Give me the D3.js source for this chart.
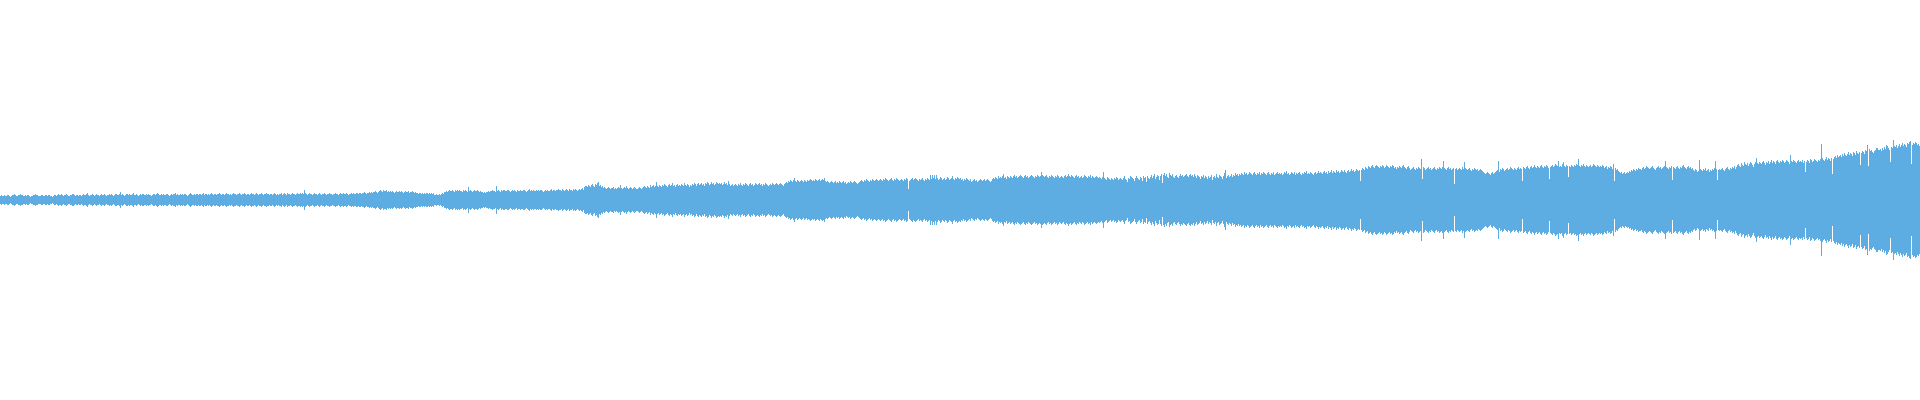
<!DOCTYPE html>
<html>
<head>
<meta charset="utf-8">
<script src="https://cdn.jsdelivr.net/npm/d3@7"></script>
<style>
  html, body { margin: 0; padding: 0; background: #ffffff; overflow: hidden; }
  svg { display: block; }
</style>
</head>
<body>
<svg id="chart" width="1920" height="400"></svg>
<script>
// Peak amplitude per waveform column (full scale = 200).
const peaks = [
  4,5,4,4,5,4,4,5,5,4, 3,4,5,5,6,5,4,4,5,5, 6,5,5,4,4,5,4,5,5,4, 3,4,4,5,5,6,5,5,4,4,
  4,5,5,4,4,5,5,4,5,5, 4,4,3,4,5,5,4,5,6,5, 5,6,5,4,5,5,6,5,4,4, 5,5,6,6,5,4,5,5,4,5,
  5,4,5,6,5,5,6,7,5,4, 5,5,6,5,4,5,6,5,5,4, 5,6,5,5,6,5,4,5,5,6, 5,6,5,4,5,6,6,5,5,6,
  8,5,6,5,4,5,6,6,5,6, 5,5,6,7,5,5,6,5,4,5, 6,5,6,6,5,5,6,5,6,5, 5,4,5,6,6,5,6,7,6,5,
  5,6,5,6,5,5,6,6,5,4, 5,6,5,6,6,7,5,6,5,5, 6,5,6,5,6,6,5,4,5,6, 7,6,5,5,6,5,6,6,5,6,
  6,5,6,7,5,6,6,5,6,5, 6,7,6,5,6,6,5,6,6,7, 6,5,6,6,5,6,7,6,6,5, 6,5,6,7,6,6,5,6,6,7,
  6,5,6,6,7,6,5,6,6,5, 6,7,6,6,5,6,7,6,5,6, 6,7,6,5,6,6,7,6,6,5, 6,6,5,6,7,6,5,6,5,6,
  6,7,5,6,7,6,5,7,6,6, 5,6,7,6,6,5,6,7,6,6, 7,6,7,6,10,7,6,5,6,7, 6,6,5,6,7,6,6,5,6,7,
  6,5,6,6,7,6,5,6,6,7, 6,6,5,6,6,7,6,6,5,6, 7,6,6,7,6,6,7,6,5,6, 6,7,6,7,6,6,7,7,6,7,
  7,6,7,7,8,7,6,7,7,8, 7,8,7,8,8,9,8,7,8,9, 10,9,8,10,9,9,10,8,9,8, 9,8,9,8,7,8,9,8,8,9,
  8,9,8,7,8,9,8,8,9,7, 8,8,9,8,7,8,7,7,6,7, 7,6,7,6,7,6,7,7,6,7, 6,7,6,7,5,5,6,5,5,6,
  5,6,7,6,8,8,9,8,9,10, 9,9,10,9,8,10,9,10,9,10, 9,9,8,10,9,10,9,8,13,9, 10,9,8,9,10,9,9,10,9,8,
  9,8,8,7,8,7,8,8,9,8, 9,9,10,9,9,8,14,9,10,9, 8,10,9,10,10,9,9,10,10,9, 8,9,10,9,10,9,8,10,9,9,
  10,9,9,10,10,9,8,9,10,11, 9,10,9,10,9,9,10,9,10,9, 10,10,9,8,9,10,9,10,9,9, 10,11,9,10,10,9,10,10,11,10,
  10,9,11,10,9,10,11,10,9,11, 10,10,9,11,10,11,10,9,10,11, 10,11,12,10,13,14,14,13,15,14, 13,15,16,14,13,16,15,17,18,14,
  15,13,14,12,13,12,11,12,13,12, 11,12,12,13,11,12,11,12,13,12, 15,12,11,12,13,12,14,12,11,12, 13,12,11,12,13,12,11,11,12,13,
  12,11,12,13,14,13,12,14,13,12, 15,13,14,15,13,14,18,14,13,15, 14,13,15,14,16,15,14,13,15,16, 14,15,17,14,15,13,15,16,14,15,
  14,16,15,14,17,15,14,16,15,13, 15,14,16,15,17,16,14,16,17,15, 16,17,15,16,14,17,16,18,17,15, 16,18,16,17,15,16,18,17,16,17,
  16,17,15,16,18,16,17,15,19,16, 14,15,16,14,15,16,15,14,16,15, 17,15,14,16,15,17,16,15,14,16, 17,15,16,14,15,17,16,15,16,17,
  15,16,14,16,15,17,16,15,14,15, 16,15,17,16,15,16,17,16,15,16, 17,16,15,14,16,17,18,17,19,18, 20,19,18,20,22,19,18,20,19,18,
  19,20,19,18,20,19,18,20,19,20, 21,20,19,20,19,21,20,19,20,21, 19,20,21,20,22,19,18,19,18,17, 18,19,18,17,18,19,17,18,17,19,
  18,17,18,19,17,18,16,17,18,17, 19,18,17,18,19,18,17,16,17,18, 19,20,19,18,20,19,21,20,19,18, 20,19,21,20,19,20,21,20,19,20,
  21,20,19,21,20,22,21,20,19,20, 21,22,20,19,21,20,22,21,20,19, 20,21,20,19,21,20,22,21,11,19, 20,21,22,20,21,22,21,20,19,21,
  20,21,22,20,19,21,20,22,21,20, 25,21,25,22,25,21,25,22,20,21, 23,22,20,21,22,20,21,23,22,20, 21,22,24,21,20,22,21,23,22,21,
  22,20,21,19,21,20,22,21,20,19, 21,18,19,20,21,19,20,18,19,20, 21,20,19,20,21,19,20,21,20,19, 18,19,21,22,21,23,22,21,24,22,
  23,22,24,26,22,23,21,24,23,22, 24,23,22,24,25,23,24,22,23,24, 25,24,23,22,24,25,23,24,22,23, 24,25,24,23,22,24,23,25,24,23,
  24,28,25,24,23,24,25,23,22,24, 23,25,24,23,22,24,23,25,24,22, 23,24,23,22,24,25,23,24,26,24, 23,25,24,23,22,24,25,23,24,22,
  23,24,22,23,25,24,23,22,24,23, 25,22,24,23,22,23,24,23,22,23, 22,21,23,28,22,21,20,23,22,21, 20,22,21,20,22,21,23,22,20,21,
  22,21,20,22,24,21,20,18,22,21, 24,23,22,21,19,22,24,22,21,20, 23,22,19,24,22,23,18,24,22,21, 23,25,22,24,26,21,23,25,24,20,
  24,26,17,25,27,24,26,23,22,27, 25,24,26,23,22,24,25,23,22,24, 26,24,25,23,24,25,26,24,23,25, 26,24,25,23,26,24,22,25,24,23,
  21,24,23,25,22,24,23,21,24,22, 23,25,20,23,24,22,26,23,22,25, 24,23,21,24,27,30,22,24,25,23, 24,26,23,25,24,27,25,26,24,26,
  25,27,26,25,28,26,27,25,26,28, 27,26,25,27,28,26,25,27,26,28, 25,27,26,28,27,26,25,27,28,26, 25,27,26,28,25,26,27,28,26,27,
  26,27,25,26,28,27,29,26,27,25, 26,28,27,26,28,25,27,26,27,28, 26,25,27,26,28,27,29,26,27,26, 28,27,26,25,27,28,26,27,29,27,
  28,27,26,28,29,27,28,26,29,27, 28,30,27,29,28,27,30,28,29,27, 28,30,29,28,30,28,27,29,30,28, 29,31,29,30,28,29,31,30,29,30,
  19,30,32,31,30,33,32,31,34,33, 32,34,35,33,32,34,35,34,33,32, 34,33,35,34,32,33,35,34,33,32, 34,33,35,34,32,33,31,33,32,34,
  33,32,34,35,33,32,31,33,34,32, 30,31,32,33,31,30,32,31,33,32, 31,41,21,33,32,30,31,32,33,31, 32,30,31,32,33,31,30,32,31,33,
  32,31,33,39,32,31,30,32,33,31, 32,30,31,32,16,31,32,30,31,32, 31,30,33,31,38,32,31,30,31,32, 30,29,31,30,32,31,30,31,29,30,
  31,30,29,28,27,26,27,28,27,26, 25,27,28,26,27,28,29,30,39,28, 31,30,32,31,29,30,31,32,30,31, 33,32,31,30,32,31,30,32,33,31,
  32,31,19,33,32,31,33,34,32,31, 33,34,32,33,35,33,32,34,33,32, 34,35,33,32,34,33,35,34,32,21, 33,34,35,33,34,36,35,34,39,33,
  34,33,36,38,34,33,35,34,23,34, 33,35,34,33,35,34,36,35,41,34, 33,35,34,36,34,33,35,34,33,34, 35,33,34,36,35,34,33,35,34,33,
  34,33,35,34,32,33,34,31,33,32, 34,33,31,36,19,32,30,31,29,28, 27,28,26,27,28,26,27,28,27,29, 28,30,29,31,30,29,31,30,32,31,
  31,30,32,33,31,32,34,33,32,31, 32,33,34,32,31,30,32,33,34,32, 33,31,32,33,34,39,33,32,31,33, 32,34,20,33,32,31,33,34,32,31,
  33,32,34,35,33,32,31,33,34,32, 33,31,32,30,29,31,30,28,29,40, 31,30,29,31,30,32,29,30,31,28, 30,29,31,30,32,39,31,20,30,31,
  30,31,32,30,29,31,32,33,31,30, 32,31,33,32,34,31,33,35,36,34, 33,37,35,34,38,36,35,37,34,36, 38,37,35,33,36,38,42,37,36,38,
  37,36,38,39,37,35,38,37,39,36, 38,40,37,39,38,36,39,40,38,37, 39,38,40,39,37,38,40,39,38,36, 45,39,38,40,39,38,37,39,40,38,
  39,38,40,37,39,28,38,40,39,37, 41,40,38,39,41,40,39,38,40,39, 41,56,42,40,39,41,43,40,42,41, 39,42,26,41,43,44,42,45,43,44,
  45,43,46,44,47,45,44,46,48,45, 47,46,44,48,47,45,49,47,46,48, 35,47,49,48,46,50,49,55,34,51, 49,50,48,47,49,50,52,52,50,50,
  51,49,52,50,53,51,55,54,52,50, 38,53,52,60,54,53,55,52,54,56, 53,55,57,54,56,55,53,57,56,58, 59,36,55,57,56,58,57,55,56,54
];

const fullScale = [-200, 200];
const waveColor = "#5dade2";

const W = 1920, H = 400;
const svg = d3.select("#chart");

const x = d3.scaleLinear().domain([0, peaks.length]).range([0, W]);
const y = d3.scaleLinear().domain(fullScale).range([H, 0]);

svg.append("g")
  .attr("shape-rendering", "crispEdges")
  .selectAll("rect")
  .data(peaks)
  .join("rect")
  .attr("x", (d, i) => x(i))
  .attr("width", (d, i) => x(i + 1) - x(i))
  .attr("y", d => y(d))
  .attr("height", d => y(-d) - y(d))
  .attr("fill", waveColor);
</script>
</body>
</html>
